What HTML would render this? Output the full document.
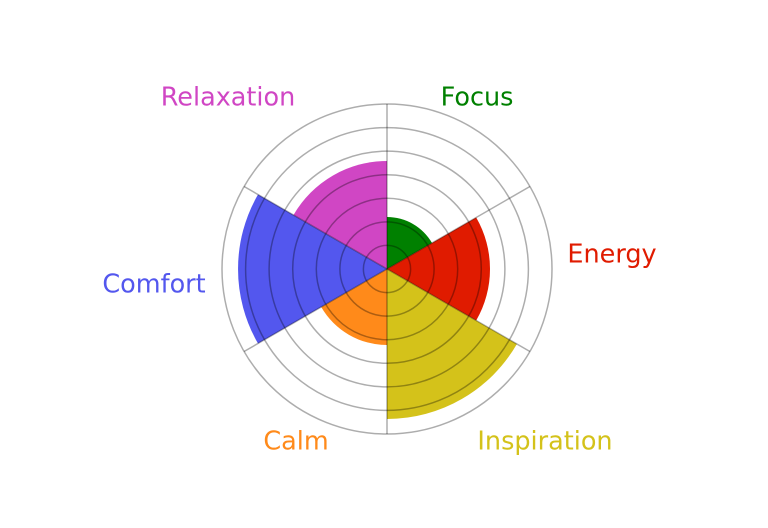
<!DOCTYPE html>
<html><head><meta charset="utf-8"><style>
html,body{margin:0;padding:0;background:#fff;}
svg{display:block;}
text{font-family:"DejaVu Sans","Liberation Sans",sans-serif;font-size:25.5px;text-anchor:middle;}
</style></head><body>
<svg width="768" height="528" viewBox="0 0 768 528" xmlns="http://www.w3.org/2000/svg">
<g>
<path d="M387,269 L387,217 A52,52 0 0 1 432,243 Z" fill="#008000"/>
<path d="M387,269 L476.2,217.5 A103,103 0 0 1 476.2,320.5 Z" fill="#e01b00"/>
<path d="M387,269 L516.9,344 A150,150 0 0 1 387,419 Z" fill="#d4c21a"/>
<path d="M387,269 L387,345 A76,76 0 0 1 321.2,307 Z" fill="#ff8a1a"/>
<path d="M387,269 L258,343.5 A149,149 0 0 1 258,194.5 Z" fill="#5357ee"/>
<path d="M387,269 L293.5,215 A108,108 0 0 1 387,161 Z" fill="#d046c4"/>
</g>
<g fill="none" stroke="rgba(0,0,0,0.32)" stroke-width="1.5">
<circle cx="387" cy="269" r="23.6"/>
<circle cx="387" cy="269" r="47.1"/>
<circle cx="387" cy="269" r="70.7"/>
<circle cx="387" cy="269" r="94.3"/>
<circle cx="387" cy="269" r="117.9"/>
<circle cx="387" cy="269" r="141.4"/>
<circle cx="387" cy="269" r="165"/>
<line x1="387" y1="269" x2="387" y2="104"/>
<line x1="387" y1="269" x2="529.9" y2="186.5"/>
<line x1="387" y1="269" x2="529.9" y2="351.5"/>
<line x1="387" y1="269" x2="387" y2="434"/>
<line x1="387" y1="269" x2="244.1" y2="351.5"/>
<line x1="387" y1="269" x2="244.1" y2="186.5"/>
</g>
<text x="228" y="105.5" fill="#d046c4">Relaxation</text>
<text x="477" y="105.5" fill="#008000">Focus</text>
<text x="612" y="262.5" fill="#e01b00">Energy</text>
<text x="154" y="292.5" fill="#5357ee">Comfort</text>
<text x="296" y="449.5" fill="#ff8a1a">Calm</text>
<text x="545" y="449.5" fill="#d4c21a">Inspiration</text>
</svg>
</body></html>
